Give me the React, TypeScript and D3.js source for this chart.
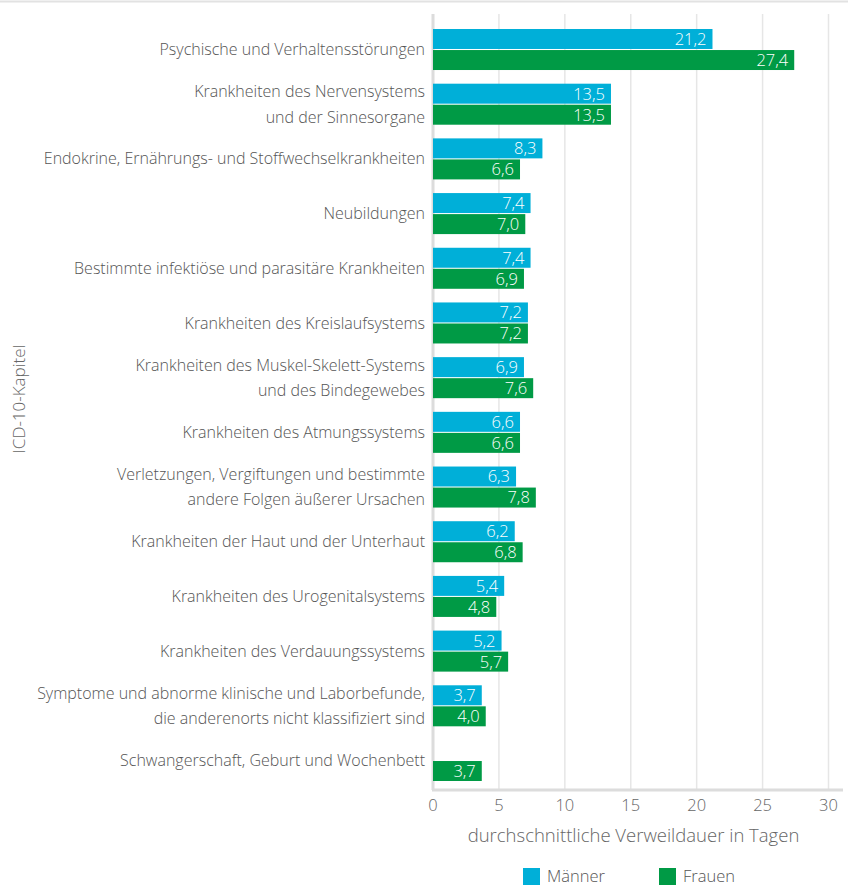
import React from "react";
import * as d3 from "d3";

const categories: string[][] = [
  ["Psychische und Verhaltensstörungen"],
  ["Krankheiten des Nervensystems", "und der Sinnesorgane"],
  ["Endokrine, Ernährungs- und Stoffwechselkrankheiten"],
  ["Neubildungen"],
  ["Bestimmte infektiöse und parasitäre Krankheiten"],
  ["Krankheiten des Kreislaufsystems"],
  ["Krankheiten des Muskel-Skelett-Systems", "und des Bindegewebes"],
  ["Krankheiten des Atmungssystems"],
  ["Verletzungen, Vergiftungen und bestimmte", "andere Folgen äußerer Ursachen"],
  ["Krankheiten der Haut und der Unterhaut"],
  ["Krankheiten des Urogenitalsystems"],
  ["Krankheiten des Verdauungssystems"],
  ["Symptome und abnorme klinische und Laborbefunde,", "die anderenorts nicht klassifiziert sind"],
  ["Schwangerschaft, Geburt und Wochenbett"],
];
const maenner: (number | null)[] = [21.2, 13.5, 8.3, 7.4, 7.4, 7.2, 6.9, 6.6, 6.3, 6.2, 5.4, 5.2, 3.7, null];
const frauen: (number | null)[] = [27.4, 13.5, 6.6, 7.0, 6.9, 7.2, 7.6, 6.6, 7.8, 6.8, 4.8, 5.7, 4.0, 3.7];
const xTicks = [0, 5, 10, 15, 20, 25, 30];
const seriesNames = ["Männer", "Frauen"];
const colors = ["#00afd8", "#009a45"];

const FONT = "'Open Sans', sans-serif";

export default function App() {
  const W = 848, H = 888;
  const x0 = 433, x1 = 828.5;
  const plotTop = 14, plotBottom = 790;
  const x = d3.scaleLinear().domain([0, 30]).range([x0, x1]);
  const y = d3.scaleBand<number>().domain(d3.range(categories.length)).range([29, 781]).paddingInner(0.25).paddingOuter(0);
  const sub = d3.scaleBand<number>().domain([0, 1]).range([0, y.bandwidth()]).paddingInner(0.05);
  const fmt = (v: number) => v.toFixed(1).replace(".", ",");
  const series = [maenner, frauen];

  return (
    <svg width={W} height={H} style={{ position: "absolute", left: 0, top: 0, fontFamily: FONT }}>
      <line x1={0} x2={W} y1={1.5} y2={1.5} stroke="#e2e2e2" strokeWidth={2} />
      {xTicks.map((t) => (
        <line key={"g" + t} x1={x(t)} x2={x(t)} y1={plotTop} y2={plotBottom} stroke={t === 0 ? "#dcdcdc" : "#e6e6e6"} strokeWidth={t === 0 ? 3 : 1.5} />
      ))}
      <line x1={x0 - 1} x2={843} y1={plotBottom} y2={plotBottom} stroke="#dcdcdc" strokeWidth={3} />
      {xTicks.map((t) => (
        <text key={"t" + t} x={x(t)} y={811} textAnchor="middle" fontSize={16.5} fill="#666" fontWeight={300}>{t}</text>
      ))}
      <text x={633.5} y={842} textAnchor="middle" fontSize={18.5} fill="#666" fontWeight={300}>durchschnittliche Verweildauer in Tagen</text>
      <text transform={`translate(25,399) rotate(-90)`} textAnchor="middle" fontSize={17} fill="#666" fontWeight={300}>ICD-10-Kapitel</text>
      {categories.map((lines, i) => {
        const cy = (y(i) as number) + y.bandwidth() / 2;
        return (
          <g key={"c" + i}>
            {lines.map((ln, j) => (
              <text key={j} x={425} y={cy + (j - (lines.length - 1) / 2) * 25.5} dy="0.35em" textAnchor="end" fontSize={16} fill="#555" fontWeight={300}>{ln}</text>
            ))}
            {series.map((s, k) => {
              const v = s[i];
              if (v == null) return null;
              const by = (y(i) as number) + (sub(k) as number);
              return (
                <g key={k}>
                  <rect x={x(0)} y={by} width={x(v) - x(0)} height={sub.bandwidth()} fill={colors[k]} />
                  <text x={x(v) - 6} y={by + sub.bandwidth() / 2} dy="0.36em" textAnchor="end" fontSize={16.5} fill="#fff" fontWeight={300}>{fmt(v)}</text>
                </g>
              );
            })}
          </g>
        );
      })}
      {seriesNames.map((n, k) => (
        <g key={"l" + k} transform={`translate(${[523, 659][k]},868)`}>
          <rect x={0} y={0} width={17} height={17} fill={colors[k]} />
          <text x={24} y={8.5} dy="0.36em" fontSize={16.5} fill="#555" fontWeight={300}>{n}</text>
        </g>
      ))}
    </svg>
  );
}
